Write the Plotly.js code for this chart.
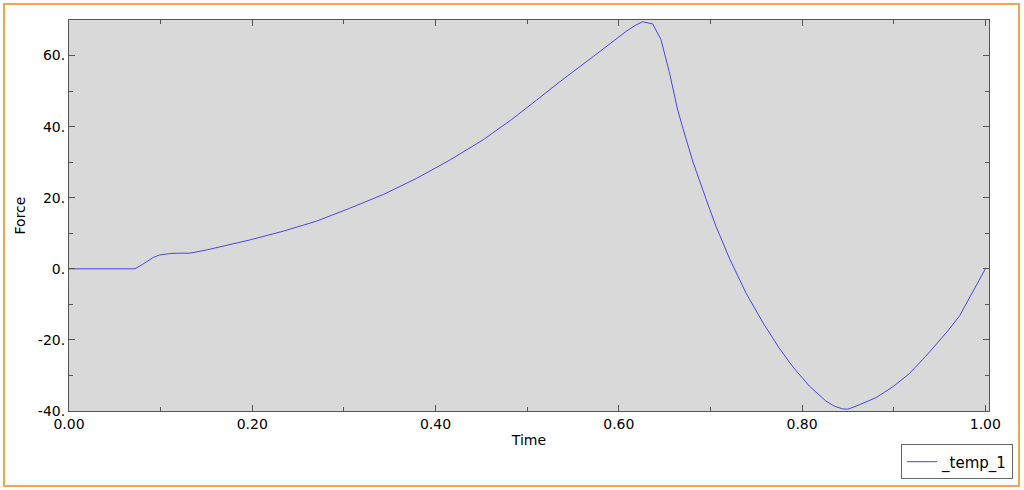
<!DOCTYPE html>
<html>
<head>
<meta charset="utf-8">
<script src="https://cdn.plot.ly/plotly-3.0.1.min.js"></script>
<style>
  html, body { margin: 0; padding: 0; background: #fff; }
  #wrap { position: relative; width: 1024px; height: 490px; }
  #myDiv { width: 1024px; height: 490px; }
  #frame {
    position: absolute; left: 3px; top: 3px; width: 1013px; height: 480px;
    border: 2px solid #f2a64c; pointer-events: none;
  }
</style>
</head>
<body>
<div id="wrap">
  <div id="myDiv"></div>
  <div id="frame"></div>
</div>
<script>
// values
var time = [0, 0.072, 0.080, 0.085, 0.092, 0.099, 0.110, 0.120, 0.132, 0.150, 0.175,
  0.197, 0.234, 0.270, 0.306, 0.343, 0.379, 0.415, 0.452, 0.459, 0.483, 0.510, 0.535,
  0.572, 0.601, 0.608, 0.618, 0.626, 0.637, 0.646, 0.655, 0.664, 0.670, 0.681,
  0.695, 0.706, 0.721, 0.739, 0.757, 0.775, 0.790, 0.808, 0.826, 0.835, 0.844, 0.850,
  0.863, 0.881, 0.899, 0.917, 0.935, 0.958, 0.972, 0.985, 1.0];
var force = [0, 0, 1.2, 2.1, 3.2, 3.9, 4.3, 4.4, 4.4, 5.3, 6.7,
  8.1, 10.6, 13.4, 17.0, 20.9, 25.4, 30.5, 36.3, 37.6, 42.0, 47.4, 52.5,
  59.7, 65.5, 66.8, 68.5, 69.5, 68.9, 64.5, 55.5, 45.0, 39.5, 30.0,
  19.8, 12.0, 2.8, -6.9, -15.0, -22.3, -27.6, -33.0, -37.2, -38.6, -39.4, -39.5,
  -38.2, -36.2, -33.2, -29.5, -24.6, -17.8, -13.2, -7.2, 0];

var xTickVals = [0, 0.2, 0.4, 0.6, 0.8, 1.0];
var xTickText = ['0.00', '0.20', '0.40', '0.60', '0.80', '1.00'];
var yTickVals = [-40, -20, 0, 20, 40, 60];
var yTickText = ['-40.', '-20.', '0.', '20.', '40.', '60.'];

var axisColor = '#555555';

var data = [{
  x: time,
  y: force,
  type: 'scatter',
  mode: 'lines',
  name: '_temp_1',
  line: { color: 'rgb(72,72,228)', width: 1 }
}];

var layout = {
  width: 1024,
  height: 490,
  margin: { l: 69, r: 34, t: 20, b: 78 },
  paper_bgcolor: '#ffffff',
  plot_bgcolor: '#d9d9d9',
  font: { family: 'DejaVu Sans, Verdana, sans-serif', size: 14, color: '#000' },
  showlegend: true,
  legend: {
    x: 1.025, xanchor: 'right',
    y: -0.172, yanchor: 'bottom',
    bgcolor: '#ffffff',
    bordercolor: '#666666',
    borderwidth: 1,
    font: { size: 15 }
  },
  xaxis: {
    range: [0, 1.004],
    tickvals: xTickVals,
    ticktext: xTickText,
    ticks: 'inside',
    ticklen: 6,
    tickcolor: axisColor,
    showline: true,
    linecolor: axisColor,
    linewidth: 1,
    mirror: 'ticks',
    showgrid: false,
    zeroline: false,
    minor: { ticks: 'inside', dtick: 0.1, tick0: 0, ticklen: 4, tickcolor: axisColor, showgrid: false },
    title: { text: 'Time', standoff: 4, font: { size: 14 } }
  },
  yaxis: {
    range: [-40, 70],
    tickvals: yTickVals,
    ticktext: yTickText,
    ticks: 'inside',
    ticklen: 6,
    tickcolor: axisColor,
    showline: true,
    linecolor: axisColor,
    linewidth: 1,
    mirror: 'ticks',
    showgrid: false,
    zeroline: false,
    minor: { ticks: 'inside', dtick: 10, tick0: 0, ticklen: 4, tickcolor: axisColor, showgrid: false },
    title: { text: 'Force', standoff: 8, font: { size: 14 } }
  }
};

Plotly.newPlot('myDiv', data, layout, { displayModeBar: false });
</script>
</body>
</html>
